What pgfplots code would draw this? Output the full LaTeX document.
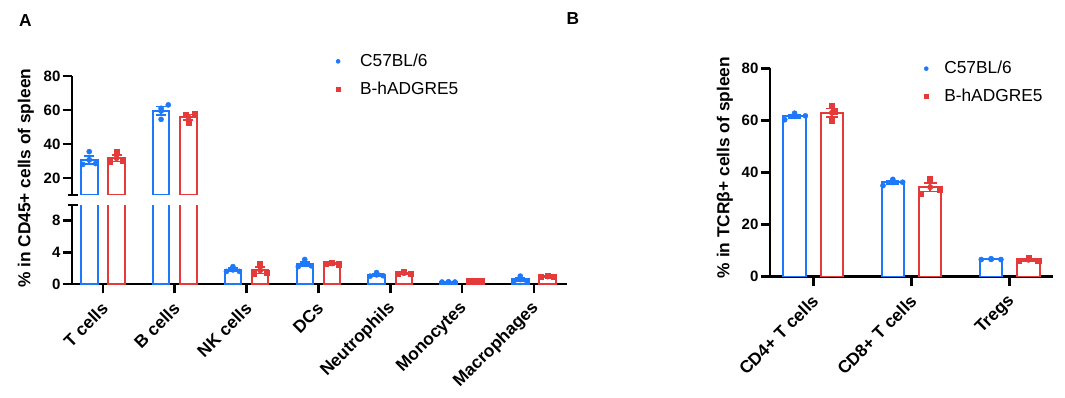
\documentclass[border=0pt]{standalone}
\usepackage{fontspec}
\setmainfont{Liberation Sans}
\usepackage{pgfplots}
\pgfplotsset{compat=1.18}
\definecolor{cblue}{RGB}{30,120,250}
\definecolor{cred}{RGB}{228,58,58}

\pgfplotsset{
  base/.style={
    scale only axis,
    axis line style={line width=2pt,-},
    tick style={line width=2pt,black},
    major tick length=7pt,
    tick align=outside,
    /pgf/number format/assume math mode=true,
    yticklabel style={font=\bfseries\fontsize{11.25}{13}\selectfont,inner sep=1.5pt},
    xticklabel style={font=\bfseries\fontsize{13}{15}\selectfont,rotate=45,anchor=east,inner sep=2pt,xshift=-3.3pt,yshift=-7.5pt},
    clip=true,
    legend style={draw=none,fill=none,font=\fontsize{13}{15}\selectfont,row sep=6pt},
    legend cell align=left,
  },
  barb/.style={ybar,bar width=0.23,bar shift=0,color=cblue,fill=white,line width=1.5pt},
  barr/.style={ybar,bar width=0.23,bar shift=0,color=cred,fill=white,line width=1.5pt},
  errA/.style={only marks,mark=none,error bars/y dir=both,error bars/y explicit,
    error bars/error mark=|,
    error bars/error bar style={line width=1.2pt},
    error bars/error mark options={line width=1.2pt,mark size=3.75pt}},
  errB/.style={only marks,mark=none,error bars/y dir=both,error bars/y explicit,
    error bars/error mark=|,
    error bars/error bar style={line width=1.2pt},
    error bars/error mark options={line width=1.2pt,mark size=4.8pt}},
  ptb/.style={only marks,mark=*,mark size=1.9pt,color=cblue},
  ptr/.style={only marks,mark=square*,mark size=1.9pt,color=cred},
}

\begin{document}
\begin{tikzpicture}
\useasboundingbox (0,0) rectangle (798.75pt,297.75pt);

% ---------- Panel A, upper segment ----------
\begin{axis}[base,
  at={(54pt,151.5pt)},anchor=south west,
  width=371.25pt,height=89.25pt,
  xmin=-0.43,xmax=6.46,ymin=10,ymax=80,
  ytick={20,40,60,80},
  axis x line=none,axis y line*=left,
  legend style={at={(axis description cs:0.525,1.006)},anchor=west,
    /tikz/every odd column/.append style={column sep=13pt}},
  after end axis/.code={
    \draw[line width=2pt] ([xshift=-3pt]rel axis cs:0,0) -- ([xshift=4.5pt]rel axis cs:0,0);
  },
]
\addlegendimage{only marks,mark=*,mark size=1.5pt,color=cblue}
\addlegendentry{C57BL/6}
\addlegendimage{only marks,mark=square*,mark size=1.5pt,color=cred}
\addlegendentry{B-hADGRE5}
\addplot[forget plot,barb] coordinates {(-0.19,30.67) (0.81,59.5)};
\addplot[forget plot,barr] coordinates {(0.19,31.67) (1.19,55.67)};
\addplot[forget plot,color=cblue,errA] coordinates {(-0.19,30.67) +- (0,2.42) (0.81,59.5) +- (0,2.57)};
\addplot[forget plot,color=cred,errA] coordinates {(0.19,31.67) +- (0,1.92) (1.19,55.67) +- (0,1.59)};
\addplot[forget plot,ptb] coordinates {(-0.28,28.0) (-0.19,35.5) (-0.10,28.5) (0.81,61.0) (0.81,54.5) (0.91,63.0)};
\addplot[forget plot,ptr] coordinates {(0.10,29.5) (0.19,35.5) (0.28,30.0) (1.16,57.0) (1.28,57.5) (1.19,52.5)};
\end{axis}

% ---------- Panel A, lower segment ----------
\begin{axis}[base,
  at={(54pt,84.75pt)},anchor=south west,
  width=371.25pt,height=59.25pt,
  xmin=-0.43,xmax=6.46,ymin=0,ymax=10,
  ytick={0,4,8},
  xtick={0,1,2,3,4,5,6},
  xticklabels={T cells,B cells,NK cells,DCs,Neutrophils,Monocytes,Macrophages},
  axis x line*=bottom,axis y line*=left,
  ylabel={\% in CD45+ cells of spleen},
  ylabel style={font=\bfseries\fontsize{13}{15}\selectfont,at={(axis description cs:-0.0929,1.338)},anchor=center},
  after end axis/.code={
    \draw[line width=2pt] ([xshift=-3pt]rel axis cs:0,1) -- ([xshift=4.5pt]rel axis cs:0,1);
  },
]
\addplot[barb] coordinates {(-0.19,30.67) (0.81,59.5) (1.81,1.8) (2.81,2.53) (3.81,1.17) (4.81,0.25) (5.81,0.58)};
\addplot[barr] coordinates {(0.19,31.67) (1.19,55.67) (2.19,1.73) (3.19,2.6) (4.19,1.37) (5.19,0.37) (6.19,0.95)};
\addplot[color=cblue,errA] coordinates {(1.81,1.8) +- (0,0.2) (2.81,2.53) +- (0,0.28) (3.81,1.17) +- (0,0.14) (4.81,0.25) +- (0,0.0) (5.81,0.58) +- (0,0.21)};
\addplot[color=cred,errA] coordinates {(2.19,1.73) +- (0,0.39) (3.19,2.6) +- (0,0.06) (4.19,1.37) +- (0,0.07) (5.19,0.37) +- (0,0.02) (6.19,0.95) +- (0,0.03)};
\addplot[ptb] coordinates {(1.72,1.6) (1.81,2.2) (1.90,1.6) (2.72,2.2) (2.81,3.1) (2.90,2.3) (3.72,1.0) (3.81,1.45) (3.90,1.05) (4.72,0.25) (4.81,0.25) (4.90,0.25) (5.72,0.35) (5.81,1.0) (5.90,0.4)};
\addplot[ptr] coordinates {(2.10,1.3) (2.19,2.5) (2.28,1.4) (3.10,2.6) (3.19,2.7) (3.28,2.5) (4.10,1.3) (4.19,1.5) (4.28,1.3) (5.10,0.35) (5.19,0.4) (5.28,0.35) (6.10,0.9) (6.19,1.0) (6.28,0.95)};
\end{axis}

% ---------- Panel B ----------
\begin{axis}[base,
  at={(577.5pt,90.225pt)},anchor=south west,
  width=212.25pt,height=156.2pt,
  xmin=-0.44,xmax=2.44,ymin=0,ymax=80,
  ytick={0,20,40,60,80},
  xtick={0,1,2},
  xticklabels={CD4+ T cells,CD8+ T cells,Tregs},
  axis x line*=bottom,axis y line*=left,
  ylabel={\% in TCRβ+ cells of spleen},
  ylabel style={font=\bfseries\fontsize{13}{15}\selectfont,at={(axis description cs:-0.159,0.524)},anchor=center},
  legend style={at={(axis description cs:0.530,0.932)},anchor=west,
    /tikz/every odd column/.append style={column sep=10pt}},
]
\addlegendimage{only marks,mark=*,mark size=1.5pt,color=cblue}
\addlegendentry{C57BL/6}
\addlegendimage{only marks,mark=square*,mark size=1.5pt,color=cred}
\addlegendentry{B-hADGRE5}
\addplot[forget plot,barb] coordinates {(-0.19,61.63) (0.81,36.23) (1.81,6.7)};
\addplot[forget plot,barr] coordinates {(0.19,62.97) (1.19,34.4) (2.19,6.5)};
\addplot[forget plot,color=cblue,errB] coordinates {(-0.19,61.63) +- (0,0.73) (0.81,36.23) +- (0,0.69) (1.81,6.7) +- (0,0.1)};
\addplot[forget plot,color=cred,errB] coordinates {(0.19,62.97) +- (0,1.70) (1.19,34.4) +- (0,1.67) (2.19,6.5) +- (0,0.37)};
\addplot[forget plot,ptb] coordinates {(-0.29,60.3) (-0.19,62.8) (-0.08,61.8) (0.71,35.0) (0.81,37.4) (0.91,36.3) (1.71,6.6) (1.81,6.9) (1.91,6.6)};
\addplot[forget plot,ptr] coordinates {(0.19,65.6) (0.19,59.8) (0.22,63.5) (1.09,32.0) (1.19,37.6) (1.29,33.6) (2.09,6.0) (2.19,7.2) (2.29,6.3)};
\end{axis}

\node[font=\bfseries\fontsize{13}{15}\selectfont] at (19.1pt,282pt) {A};
\node[font=\bfseries\fontsize{13}{15}\selectfont] at (429.75pt,283.5pt) {B};
\end{tikzpicture}
\end{document}
